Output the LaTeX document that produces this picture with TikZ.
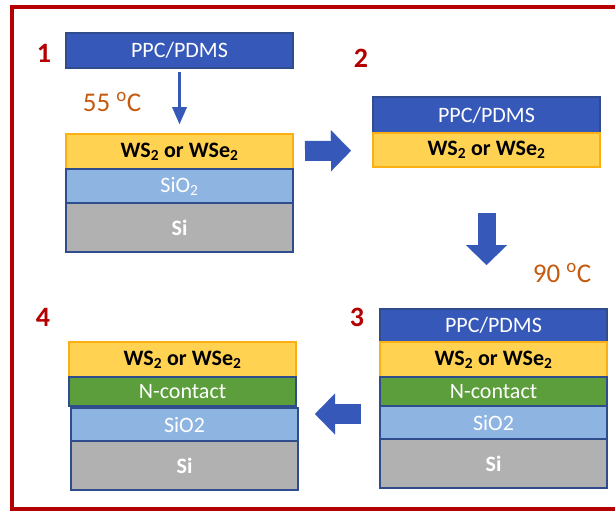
\documentclass[tikz,border=0pt]{standalone}
\usepackage{fontspec}
\setmainfont{Carlito}
\usetikzlibrary{arrows.meta,positioning}

\definecolor{ppcblue}{RGB}{54,88,184}
\definecolor{edgeblue}{RGB}{47,76,140}
\definecolor{tmdyellow}{RGB}{255,210,82}
\definecolor{tmdedge}{RGB}{250,176,20}
\definecolor{oxideblue}{RGB}{142,181,226}
\definecolor{sigray}{RGB}{177,177,177}
\definecolor{contactgreen}{RGB}{92,158,60}
\definecolor{framered}{RGB}{180,0,0}
\definecolor{tempbrown}{RGB}{197,90,17}

\begin{document}
\begin{tikzpicture}[
            x=1pt, y=-1pt,
            node distance=0pt,
            layer/.style={draw=edgeblue, line width=1.2pt, minimum width=227pt, inner sep=0pt, outer sep=0pt, text=white, font=\fontsize{22}{24}\selectfont},
            ppc/.style={layer, fill=ppcblue, minimum height=35pt},
            tmd/.style={layer, draw=tmdedge, fill=tmdyellow, text=black, font=\fontsize{22}{24}\selectfont\bfseries, minimum height=35pt},
            oxide/.style={layer, fill=oxideblue, minimum height=34pt},
            substrate/.style={layer, fill=sigray, font=\fontsize{22}{24}\selectfont\bfseries, minimum height=49pt},
            contact/.style={layer, fill=contactgreen, minimum height=29pt},
            steplabel/.style={text=framered, font=\fontsize{28}{30}\selectfont\bfseries},
            temp/.style={text=tempbrown, font=\fontsize{27}{29}\selectfont},
            fat/.style={ppcblue, line width=20pt, -{Triangle[length=20pt, width=41pt, line width=0.1pt]}},
            thin/.style={ppcblue, line width=3pt, -{Triangle[length=17pt, width=15pt, line width=0.1pt]}}
        ]
        \useasboundingbox (0,0) rectangle (615,512);
        \draw[framered, line width=3.5pt] (615,7) -- (12,7) -- (12,509) -- (615,509);

        % step 1
        \node[ppc, anchor=north west] (ppcA) at (66,33) {PPC/PDMS};
        \node[tmd, anchor=north west] (wsA) at (66,134) {WS\textsubscript{2} or WSe\textsubscript{2}};
        \node[oxide, below=of wsA] (sioA) {SiO\textsubscript{2}};
        \node[substrate, below=of sioA] (siA) {Si};
        \node[steplabel] (numA) at (44,53) {1};
        \node[temp] (tempA) at (112,102) {55 \textsuperscript{o}C};

        % step 2
        \node[ppc, anchor=north west, minimum height=36pt] (ppcB) at (373,97) {PPC/PDMS};
        \node[tmd, below=of ppcB, minimum height=34pt] (wsB) {WS\textsubscript{2} or WSe\textsubscript{2}};
        \node[steplabel] (numB) at (361,58) {2};

        % step 3
        \node[ppc, anchor=north west, minimum height=33pt] (ppcC) at (380,309) {PPC/PDMS};
        \node[tmd, below=of ppcC] (wsC) {WS\textsubscript{2} or WSe\textsubscript{2}};
        \node[contact, below=of wsC] (ncC) {N-contact};
        \node[oxide, below=of ncC, minimum height=33pt] (sioC) {SiO2};
        \node[substrate, below=of sioC] (siC) {Si};
        \node[steplabel] (numC) at (357,317) {3};
        \node[temp] (tempC) at (562,273) {90 \textsuperscript{o}C};

        % step 4
        \node[tmd, anchor=north west] (wsD) at (69,342) {WS\textsubscript{2} or WSe\textsubscript{2}};
        \node[contact, below=of wsD] (ncD) {N-contact};
        \node[oxide, below=2pt of ncD, xshift=2pt, minimum height=33pt] (sioD) {SiO2};
        \node[substrate, below=of sioD] (siD) {Si};
        \node[steplabel] (numD) at (43,317) {4};

        % arrows
        \draw[thin, shorten <=4pt, shorten >=10pt] (ppcA) -- (wsA);
        \draw[fat, shorten <=12pt, shorten >=22pt] (wsA) -- (wsB);
        \draw[fat, line width=18pt, shorten <=46pt, shorten >=44pt] (wsB.south) -- (wsB.south |- ppcC.north);
        \coordinate (arrowC) at ([yshift=-8pt]ncC.south west);
        \coordinate (arrowD) at (arrowC -| ncD.east);
        \draw[fat, shorten <=19pt, shorten >=19pt] (arrowC) -- (arrowD);
        \end{tikzpicture}
\end{document}
